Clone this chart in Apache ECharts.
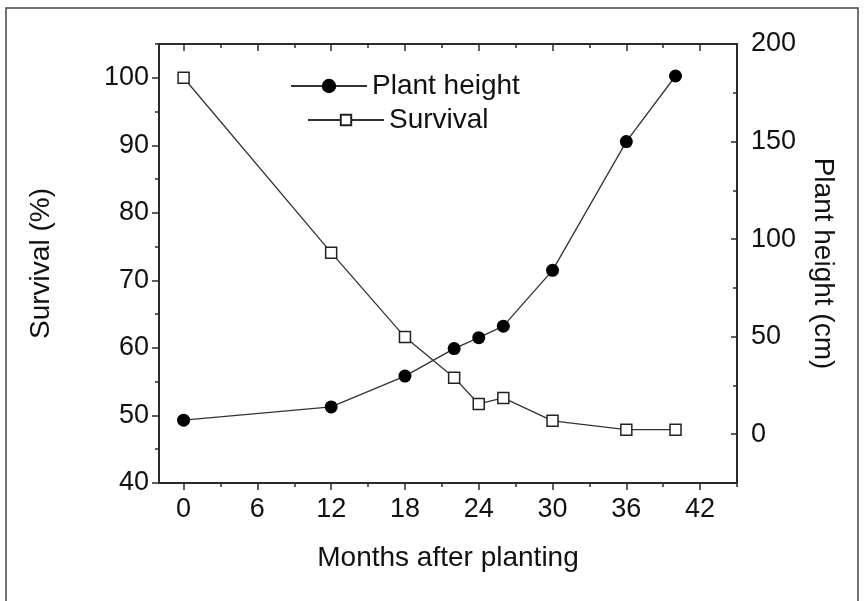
<!DOCTYPE html>
<html>
<head>
<meta charset="utf-8">
<script src="https://cdn.jsdelivr.net/npm/echarts@6/dist/echarts.min.js"></script>
<style>
html,body{margin:0;padding:0;background:#fff;}
#chart{width:866px;height:601px;}
</style>
</head>
<body>
<div id="chart"></div>
<script>
// ---- data ----
var months = [0, 12, 18, 22, 24, 26, 30, 36, 40];
var survival = [100, 74.1, 61.6, 55.6, 51.7, 52.6, 49.2, 47.9, 47.9];
var plantHeight = [7.2, 14.0, 29.8, 43.9, 49.5, 55.4, 84.0, 150.0, 183.6];

var xMajorTicks = [0, 6, 12, 18, 24, 30, 36, 42];
var xMinorTicks = [3, 9, 15, 21, 27, 33, 39, 45];
var leftMajorTicks = [40, 50, 60, 70, 80, 90, 100];
var leftMinorTicks = [45, 55, 65, 75, 85, 95, 105];
var rightMajorTicks = [0, 50, 100, 150, 200];
var rightMinorTicks = [-25, 25, 75, 125, 175];

var xTitle = 'Months after planting';
var leftTitle = 'Survival (%)';
var rightTitle = 'Plant height (cm)';
var seriesNames = ['Plant height', 'Survival'];

// ---- chart ----
var FONT = '"Liberation Sans", Arial, sans-serif';
var INK = '#111';
var AX = '#2a2a2a';

function pairs(xs, ys) { return xs.map(function (x, i) { return [x, ys[i]]; }); }

function xAx(pos, vals, len, inside, showLine, showLabel) {
  return {
    type: 'value', position: pos, min: -2, max: 45,
    axisLine: { show: showLine, onZero: false, lineStyle: { color: AX, width: 2 } },
    axisTick: { show: true, inside: inside, length: len, customValues: vals, lineStyle: { color: AX, width: 1.5 } },
    axisLabel: showLabel ? { show: true, customValues: vals, margin: 13, fontSize: 27, color: INK, fontFamily: FONT } : { show: false },
    splitLine: { show: false }
  };
}
function yAx(pos, min, max, vals, len, inside, showLine, showLabel, margin) {
  return {
    type: 'value', position: pos, min: min, max: max,
    axisLine: { show: showLine, onZero: false, lineStyle: { color: AX, width: 2 } },
    axisTick: { show: true, inside: inside, length: len, customValues: vals, lineStyle: { color: AX, width: 1.5 } },
    axisLabel: showLabel ? { show: true, customValues: vals, margin: margin, fontSize: 27, color: INK, fontFamily: FONT } : { show: false },
    splitLine: { show: false }
  };
}

var xMain = xAx('bottom', xMajorTicks, 7, false, true, true);
xMain.name = xTitle;
xMain.nameLocation = 'middle';
xMain.nameGap = 61;
xMain.nameTextStyle = { fontSize: 28, color: INK, fontFamily: FONT };

var yLeft = yAx('left', 40, 105, leftMajorTicks, 7, false, true, true, 10);
yLeft.name = leftTitle;
yLeft.nameLocation = 'middle';
yLeft.nameGap = 104;
yLeft.nameTextStyle = { fontSize: 28, color: INK, fontFamily: FONT };

var yRight = yAx('right', -25, 200, rightMajorTicks, 6, true, true, true, 14);
yRight.name = rightTitle;
yRight.nameLocation = 'middle';
yRight.nameRotate = -90;
yRight.nameGap = 72;
yRight.nameTextStyle = { fontSize: 28, color: INK, fontFamily: FONT };

var chart = echarts.init(document.getElementById('chart'), null, { renderer: 'canvas' });
chart.setOption({
  animation: false,
  backgroundColor: '#fff',
  grid: { left: 159, right: 129, top: 44, bottom: 118, containLabel: false },
  graphic: [{
    type: 'rect', silent: true, z: -1,
    shape: { x: 6, y: 8, width: 852, height: 600 },
    style: { fill: 'none', stroke: '#444', lineWidth: 1.5 }
  }],
  legend: [{
    data: [seriesNames[0]], left: 285, top: 67, itemWidth: 76, itemHeight: 18,
    textStyle: { fontSize: 28, color: INK, fontFamily: FONT }
  }, {
    data: [seriesNames[1]], left: 302, top: 101, itemWidth: 76, itemHeight: 13,
    textStyle: { fontSize: 28, color: INK, fontFamily: FONT }
  }],
  xAxis: [
    xMain,
    xAx('bottom', xMinorTicks, 4, false, false, false),
    xAx('top', xMajorTicks, 7, true, true, false),
    xAx('top', xMinorTicks, 4, true, false, false)
  ],
  yAxis: [
    yLeft,
    yRight,
    yAx('left', 40, 105, leftMinorTicks, 4, false, false, false, 6),
    yAx('right', -25, 200, rightMinorTicks, 4, true, false, false, 14)
  ],
  series: [{
    name: seriesNames[0], type: 'line', xAxisIndex: 0, yAxisIndex: 1,
    data: pairs(months, plantHeight),
    symbol: 'circle', symbolSize: 13,
    itemStyle: { color: '#000', borderColor: '#000', borderWidth: 0 },
    lineStyle: { color: '#333', width: 1.3 },
    z: 3
  }, {
    name: seriesNames[1], type: 'line', xAxisIndex: 0, yAxisIndex: 0,
    data: pairs(months, survival),
    symbol: 'rect', symbolSize: 11,
    itemStyle: { color: '#fff', borderColor: '#222', borderWidth: 1.5 },
    lineStyle: { color: '#333', width: 1.3 },
    z: 2
  }]
});
</script>
</body>
</html>
